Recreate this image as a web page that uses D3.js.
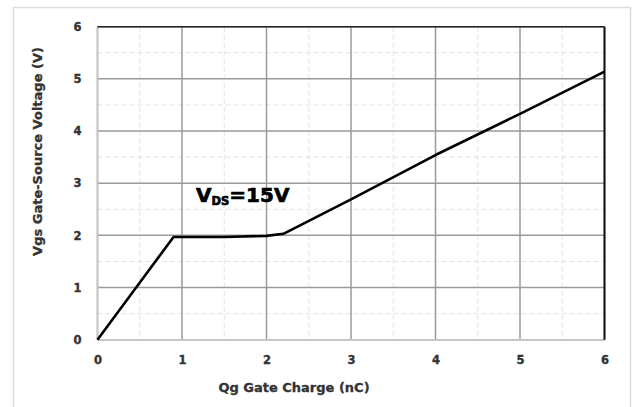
<!DOCTYPE html>
<html><head><meta charset="utf-8">
<script src="https://cdn.jsdelivr.net/npm/d3@7"></script>
<style>
html,body{margin:0;padding:0;background:#fff;}
svg{display:block;}
</style></head>
<body>
<svg id="c" width="636" height="407"></svg>
<script>
const qg = [0, 0.9, 1.5, 2.0, 2.2, 3, 4, 5, 6];
const vgs = [0, 1.97, 1.97, 1.99, 2.03, 2.69, 3.54, 4.33, 5.14];
const xTicks = [0, 1, 2, 3, 4, 5, 6];
const yTicks = [0, 1, 2, 3, 4, 5, 6];
const minorTicks = [0.5, 1.5, 2.5, 3.5, 4.5, 5.5];
const xTitle = "Qg Gate Charge (nC)";
const yTitle = "Vgs Gate-Source Voltage (V)";

const svg = d3.select("#c");
const font = "'DejaVu Sans', Verdana, sans-serif";
// outer frame
svg.append("rect").attr("x", 13.5).attr("y", 7.5).attr("width", 617).attr("height", 405)
  .attr("fill", "#fff").attr("stroke", "#dcdcdc").attr("stroke-width", 1.5);

const x = d3.scaleLinear().domain([0, 6]).range([97.5, 604.5]);
const y = d3.scaleLinear().domain([0, 6]).range([339.7, 26.7]);

const g = svg.append("g");
// minor dashed grid
g.selectAll(".mx").data(minorTicks).enter().append("line")
  .attr("x1", d => x(d)).attr("x2", d => x(d)).attr("y1", y(6)).attr("y2", y(0))
  .attr("stroke", "#e2e2e2").attr("stroke-width", 1).attr("stroke-dasharray", "5,3");
g.selectAll(".my").data(minorTicks).enter().append("line")
  .attr("y1", d => y(d)).attr("y2", d => y(d)).attr("x1", x(0)).attr("x2", x(6))
  .attr("stroke", "#e2e2e2").attr("stroke-width", 1).attr("stroke-dasharray", "5,3");
// major grid
g.selectAll(".gx").data(xTicks).enter().append("line")
  .attr("x1", d => x(d)).attr("x2", d => x(d)).attr("y1", y(6)).attr("y2", y(0))
  .attr("stroke", "#9a9a9a").attr("stroke-width", 1.5);
g.selectAll(".gy").data(yTicks).enter().append("line")
  .attr("y1", d => y(d)).attr("y2", d => y(d)).attr("x1", x(0)).attr("x2", x(6))
  .attr("stroke", "#9a9a9a").attr("stroke-width", 1.5);
// axis lines (left/bottom light, top/right dark)
g.append("line").attr("x1", x(0)).attr("x2", x(6)).attr("y1", y(0)).attr("y2", y(0))
  .attr("stroke", "#c4c4c4").attr("stroke-width", 1.5);
g.append("line").attr("x1", x(0)).attr("x2", x(0)).attr("y1", y(0)).attr("y2", y(6))
  .attr("stroke", "#c4c4c4").attr("stroke-width", 1.5);
g.append("line").attr("x1", x(0)).attr("x2", x(6)).attr("y1", y(6)).attr("y2", y(6))
  .attr("stroke", "#222").attr("stroke-width", 1.5);
g.append("line").attr("x1", x(6)).attr("x2", x(6)).attr("y1", y(6)).attr("y2", y(0))
  .attr("stroke", "#111").attr("stroke-width", 2);

// axes via d3 (labels only)
const xa = svg.append("g").attr("transform", `translate(0,${y(0)})`)
  .call(d3.axisBottom(x).tickValues(xTicks).tickSize(0).tickPadding(16).tickFormat(d3.format("d")));
const ya = svg.append("g").attr("transform", `translate(${x(0)},0)`)
  .call(d3.axisLeft(y).tickValues(yTicks).tickSize(0).tickPadding(16).tickFormat(d3.format("d")));
[xa, ya].forEach(a => {
  a.select(".domain").remove();
  a.selectAll("text").attr("font-family", font).attr("font-weight", "bold")
    .attr("font-size", 11.5).attr("fill", "#333").attr("stroke", "#333").attr("stroke-width", 0.35);
});

// data line
const line = d3.line().x((d, i) => x(qg[i])).y((d, i) => y(vgs[i]));
svg.append("path").datum(vgs).attr("d", line).attr("fill", "none")
  .attr("stroke", "#000").attr("stroke-width", 2.6).attr("stroke-linejoin", "round");

// annotation
const ann = svg.append("text").attr("x", 196).attr("y", 201.7)
  .attr("font-family", font).attr("font-weight", "bold").attr("font-size", 20).attr("fill", "#000")
  .attr("stroke", "#000").attr("stroke-width", 0.7);
ann.append("tspan").text("V");
ann.append("tspan").attr("font-size", 11.5).attr("dy", 3.5).text("DS");
ann.append("tspan").attr("dy", -3.5).text("=15V");

// titles
svg.append("text").attr("x", 294).attr("y", 392).attr("text-anchor", "middle")
  .attr("font-family", font).attr("font-weight", "bold").attr("font-size", 13).attr("fill", "#333")
  .attr("stroke", "#333").attr("stroke-width", 0.3)
  .text(xTitle);
svg.append("text").attr("transform", "translate(42,151.5) rotate(-90)").attr("text-anchor", "middle")
  .attr("font-family", font).attr("font-weight", "bold").attr("font-size", 13).attr("fill", "#333")
  .attr("stroke", "#333").attr("stroke-width", 0.3)
  .text(yTitle);
</script>
</body></html>
